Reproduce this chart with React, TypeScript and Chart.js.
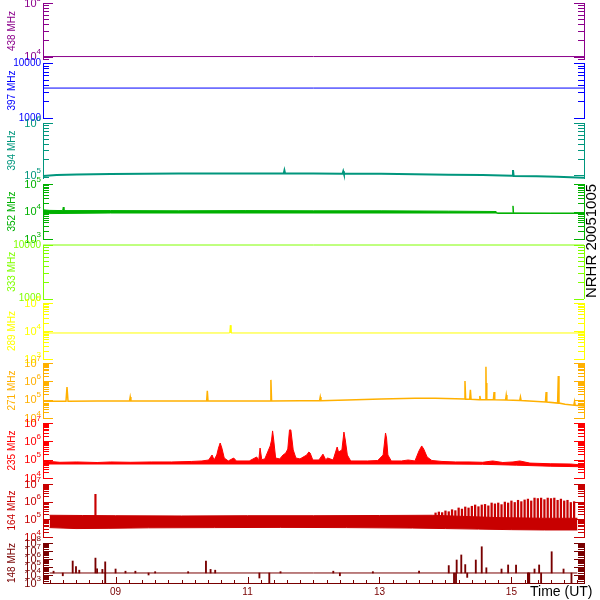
import React, { useEffect, useRef } from "react";
import { Chart, registerables } from "chart.js";

Chart.register(...registerables);

const FONT = "'Liberation Sans', 'DejaVu Sans', Arial, sans-serif";

// ---- time axis (hours UT) ----
const timeMin = 8;
const timeMax = 16;
const xTickHours = [9, 11, 13, 15];
const xTickLabels = ["09", "11", "13", "15"];
const xMinorStep = 0.2;
const timeTitle = "Time (UT)";
const stationTitle = "NRHR 20051005";

// ---- channels ----
const channelNames = ["438 MHz", "397 MHz", "394 MHz", "352 MHz", "333 MHz", "289 MHz", "271 MHz", "235 MHz", "164 MHz", "148 MHz"];
const channelColors = ["#8b008b", "#0000ff", "#00967d", "#00b000", "#80ff00", "#ffff00", "#ffb000", "#ff0000", "#c80000", "#780000"];
const yMins = [9e3, 1e3, 8.8e4, 1e3, 1e3, 1e3, 1e4, 1e4, 1e4, 1e3];
const yMaxs = [1e5, 1e4, 1e6, 1e5, 1e4, 1e5, 1e7, 1e7, 1e7, 1e8];
const yMajorValues = [
  [1e4, 1e5],
  [1e3, 1e4],
  [1e5, 1e6],
  [1e3, 1e4, 1e5],
  [1e3, 1e4],
  [1e3, 1e4, 1e5],
  [1e4, 1e5, 1e6, 1e7],
  [1e4, 1e5, 1e6, 1e7],
  [1e4, 1e5, 1e6, 1e7],
  [1e3, 1e4, 1e5, 1e6, 1e7, 1e8],
];
const yMajorLabels = [
  ["10^4", "10^5"],
  ["1000", "10000"],
  ["10^5", "10^6"],
  ["10^3", "10^4", "10^5"],
  ["1000", "10000"],
  ["10^3", "10^4", "10^5"],
  ["10^4", "10^5", "10^6", "10^7"],
  ["10^4", "10^5", "10^6", "10^7"],
  ["10^4", "10^5", "10^6", "10^7"],
  ["10^3", "10^4", "10^5", "10^6", "10^7", "10^8"],
];

// ---- layout of panels (pixels) ----
const panelTops = [3, 63, 123, 184, 245, 303, 363, 423, 484, 543];
const panelBottoms = [59, 118, 178, 239, 298.5, 359, 418, 478, 537, 583];

// ---- data: [time (h), value] ----
const s438 = [[8, 1e4], [16, 1e4]];
const s397 = [[8, 3500], [16, 3500]];
const s394 = [
  [8.0, 9.6e4], [8.2, 1.0e5], [8.5, 1.03e5], [9.0, 1.05e5], [10.0, 1.07e5], [11.0, 1.07e5],
  [11.56, 1.07e5], [11.57, 1.22e5], [11.58, 1.07e5], [12.0, 1.07e5], [12.43, 1.06e5], [12.44, 1.18e5],
  [12.45, 1.06e5], [13.0, 1.06e5], [13.5, 1.04e5], [14.0, 1.02e5], [14.5, 1.0e5], [14.94, 9.7e4],
  [14.95, 1.25e5], [14.96, 9.6e4], [15.3, 9.5e4], [15.6, 9.3e4], [16.0, 8.9e4],
];
const s352Lo = [[8.0, 7.4e3], [8.1, 8.4e3], [9.0, 8.8e3], [14.7, 8.8e3], [14.72, 8.5e3], [16.0, 8.5e3]];
const s352Hi = [
  [8.0, 1.15e4], [8.1, 1.1e4], [8.29, 1.08e4], [8.3, 1.45e4], [8.31, 1.08e4], [9.0, 1.08e4],
  [10.0, 1.06e4], [11.0, 1.08e4], [12.0, 1.06e4], [13.0, 1.06e4], [14.0, 1.03e4], [14.7, 1.0e4],
  [14.72, 8.9e3], [14.94, 8.9e3], [14.95, 1.6e4], [14.96, 8.9e3], [15.5, 8.8e3], [16.0, 8.8e3],
];
const s333 = [[8, 1e4], [16, 1e4]];
const s289 = [[8, 8.5e3], [10.76, 8.5e3], [10.77, 1.6e4], [10.78, 8.5e3], [16, 8.5e3]];
const s271 = [
  [8.0, 8.3e4], [8.34, 8.3e4], [8.355, 4.9e5], [8.37, 8.3e4], [8.8, 8.5e4], [9.28, 8.5e4], [9.29, 1.4e5],
  [9.3, 8.5e4], [9.8, 8.5e4], [10.42, 8.5e4], [10.43, 3.0e5], [10.44, 8.5e4], [11.0, 8.5e4], [11.36, 8.5e4],
  [11.37, 1.2e6], [11.38, 8.5e4], [11.8, 8.7e4], [12.09, 8.8e4], [12.1, 1.4e5], [12.11, 8.8e4], [12.5, 9.6e4],
  [13.0, 1.1e5], [13.5, 1.2e5], [13.8, 1.2e5], [14.1, 1.12e5], [14.23, 1.1e5], [14.24, 1.05e6], [14.25, 1.05e5],
  [14.31, 1.05e5], [14.32, 3.4e5], [14.33, 1.05e5], [14.45, 1.0e5], [14.46, 1.6e5], [14.47, 1.0e5],
  [14.54, 1.0e5], [14.55, 6.3e6], [14.555, 1.0e5], [14.56, 8.1e5], [14.565, 1.0e5], [14.66, 9.8e4],
  [14.67, 2.6e5], [14.68, 9.8e4], [14.84, 9.6e4], [14.85, 1.8e5], [14.86, 9.6e4], [15.05, 9.0e4],
  [15.06, 1.4e5], [15.07, 9.0e4], [15.43, 7.5e4], [15.44, 2.6e5], [15.45, 7.5e4], [15.61, 6.5e4],
  [15.62, 1.95e6], [15.63, 6.5e4], [15.72, 5.6e4], [15.85, 5.0e4], [15.86, 8.0e4], [15.87, 5.0e4], [16.0, 4.5e4],
];
const s235Lo = [[8.0, 5.8e4], [13.9, 5.8e4], [14.5, 5.6e4], [15.0, 5.0e4], [15.5, 4.4e4], [16.0, 4.1e4]];
const s235Hi = [
  [8.0, 7.0e4], [8.1, 8.0e4], [8.25, 7.2e4], [8.5, 7.5e4], [8.8, 7.0e4], [9.0, 7.5e4], [9.3, 7.2e4],
  [9.6, 7.5e4], [9.9, 7.5e4], [10.2, 8.0e4], [10.35, 8.5e4], [10.45, 9.6e4], [10.5, 1.8e5], [10.53, 9.6e4],
  [10.57, 1.8e5], [10.595, 4.3e5], [10.62, 8.1e5], [10.645, 4.3e5], [10.68, 1.23e5], [10.74, 8.5e4],
  [10.82, 1.23e5], [10.86, 8.5e4], [11.05, 8.5e4], [11.16, 1.4e5], [11.19, 9.0e4], [11.21, 4.3e5],
  [11.235, 1.0e5], [11.28, 1.1e5], [11.36, 5.6e5], [11.38, 1.18e6], [11.395, 3.7e6], [11.41, 1.34e6],
  [11.44, 1.23e5], [11.5, 1.1e5], [11.55, 1.8e5], [11.59, 2.3e5], [11.62, 3.8e5], [11.645, 4.2e6],
  [11.665, 4.2e6], [11.7, 3.4e5], [11.74, 1.23e5], [11.8, 1.1e5], [11.9, 1.8e5], [11.93, 2.6e5],
  [11.95, 2.3e5], [11.99, 9.6e4], [12.08, 9.6e4], [12.14, 2.0e5], [12.18, 1.0e5], [12.21, 1.23e5],
  [12.29, 9.6e4], [12.35, 4.9e5], [12.37, 2.6e5], [12.42, 3.4e5], [12.45, 3.2e6], [12.47, 1.18e6],
  [12.5, 1.8e5], [12.55, 8.5e4], [12.8, 8.5e4], [12.95, 9.0e4], [13.03, 1.8e5], [13.065, 2.85e6],
  [13.08, 1.52e6], [13.1, 1.8e5], [13.15, 8.5e4], [13.3, 8.5e4], [13.4, 9.6e4], [13.5, 8.5e4],
  [13.56, 3.0e5], [13.6, 5.6e5], [13.63, 3.8e5], [13.68, 1.4e5], [13.75, 9.0e4], [13.9, 8.0e4],
  [14.1, 7.5e4], [14.3, 7.5e4], [14.5, 7.2e4], [14.65, 8.5e4], [14.8, 7.0e4], [14.95, 7.5e4],
  [15.05, 8.5e4], [15.2, 6.5e4], [15.5, 6.0e4], [15.8, 5.8e4], [16.0, 5.0e4],
];
const s164Lo = [
  [8.0, 3.4e4], [8.4, 3.0e4], [8.9, 3.1e4], [9.5, 3.3e4], [10.5, 3.4e4], [11.5, 3.5e4], [12.5, 3.4e4],
  [13.5, 3.2e4], [14.0, 3.0e4], [14.5, 2.8e4], [15.0, 2.6e4], [15.5, 2.5e4], [16.0, 2.5e4],
];
const s164Hi = [
  [8.0, 1.7e5], [8.5, 1.65e5], [9.0, 1.6e5], [10.0, 1.55e5], [11.0, 1.6e5], [12.0, 1.6e5], [13.0, 1.65e5],
  [13.8, 1.7e5], [14.2, 1.5e5], [14.8, 1.25e5], [15.5, 1.15e5], [16.0, 1.15e5],
];
const s164Spikes = [[8.695, 1.6e5, 2.6e6]];
const comb164Base = 1.15e5;
const s164Comb = [
  [13.85, 2.3e5], [13.9, 2.6e5], [13.95, 2.4e5], [14.0, 3.0e5], [14.05, 2.7e5], [14.1, 3.5e5], [14.15, 3.1e5],
  [14.2, 4.4e5], [14.25, 3.8e5], [14.3, 5.0e5], [14.35, 4.4e5], [14.4, 5.5e5], [14.45, 6.5e5], [14.5, 5.2e5],
  [14.55, 6.5e5], [14.6, 7.0e5], [14.65, 5.8e5], [14.7, 8.4e5], [14.75, 7.5e5], [14.8, 8.4e5], [14.85, 6.8e5],
  [14.9, 9.5e5], [14.95, 8.4e5], [15.0, 1.1e6], [15.05, 9.0e5], [15.1, 1.2e6], [15.15, 1.0e6], [15.2, 1.25e6],
  [15.25, 1.4e6], [15.3, 1.1e6], [15.35, 1.6e6], [15.4, 1.5e6], [15.45, 1.6e6], [15.5, 1.3e6], [15.55, 1.6e6],
  [15.6, 1.5e6], [15.65, 1.6e6], [15.7, 1.2e6], [15.75, 1.4e6], [15.8, 1.1e6], [15.85, 1.2e6], [15.9, 9.0e5],
  [15.95, 1.0e6],
];
const base148 = 1.78e4;
const s148Base = [[8, base148], [16, base148]];
const s148Up = [
  [8.06, 3.0e4], [8.35, 5.6e5], [8.4, 1.1e5], [8.45, 4.0e4], [8.695, 1.3e6], [8.72, 6.0e4], [8.8, 5.0e4],
  [8.843, 4.4e5], [9.0, 5.6e4], [9.15, 3.0e4], [9.3, 3.0e4], [9.6, 2.6e4], [10.1, 2.6e4], [10.37, 5.6e5],
  [10.44, 5.0e4], [10.51, 4.0e4], [11.5, 2.6e4], [12.3, 3.0e4], [12.9, 2.6e4], [13.6, 3.0e4], [14.05, 1.5e5],
  [14.17, 7.5e5], [14.24, 3.2e6], [14.3, 2.0e5], [14.46, 7.5e5], [14.55, 3.4e7], [14.62, 8.0e4],
  [14.85, 5.6e4], [14.95, 1.8e5], [15.07, 1.8e5], [15.35, 5.6e4], [15.42, 1.8e5], [15.61, 8.1e6], [15.79, 5.6e4],
];
const s148Down = [
  [8.2, 8e3], [8.843, 1e3], [9.5, 1e4], [11.18, 4.2e3], [11.33, 1e3], [12.4, 8e3], [14.13, 1e3],
  [14.16, 1e3], [14.33, 5e3], [15.25, 1e3], [15.26, 1e3], [15.27, 1e3], [15.45, 1e3], [15.91, 1e3],
];

// ---- helpers ----
const line = (pairs: number[][], color: string, width = 1, extra: any = {}) => ({
  type: "line",
  data: pairs.map(([x, y]) => ({ x, y })),
  borderColor: color,
  backgroundColor: color,
  borderWidth: width,
  pointRadius: 0,
  tension: 0,
  clip: false,
  ...extra,
});
const bars = (items: number[][], color: string, thickness: number) => ({
  type: "bar",
  data: items.map(([x, lo, hi]) => ({ x, y: [lo, hi] })),
  backgroundColor: color,
  borderWidth: 0,
  barThickness: thickness,
  grouped: false,
  clip: false,
});

function datasetsFor(i: number) {
  const c = channelColors[i];
  switch (i) {
    case 0: return [line(s438, c)];
    case 1: return [line(s397, c)];
    case 2: return [line(s394, c, 2)];
    case 3: return [line(s352Lo, c), line(s352Hi, c, 1, { fill: "-1" })];
    case 4: return [line(s333, c)];
    case 5: return [line(s289, c)];
    case 6: return [line(s271, c, 1.5)];
    case 7: return [line(s235Lo, c), line(s235Hi, c, 1, { fill: "-1" })];
    case 8: return [
      line(s164Lo, c), line(s164Hi, c, 1, { fill: "-1" }),
      bars(s164Spikes, c, 1.5),
      bars(s164Comb.map(([t, v]) => [t, comb164Base, v]), c, 1.6),
    ];
    default: return [
      line(s148Base, c),
      bars(s148Up.map(([t, v]) => [t, base148, v]), c, 1.2),
      bars(s148Down.map(([t, v]) => [t, v, base148]), c, 1.2),
    ];
  }
}

function logTicks(min: number, max: number) {
  const out: number[] = [];
  for (let e = Math.floor(Math.log10(min)); e <= Math.ceil(Math.log10(max)); e++) {
    for (let m = 1; m <= 9; m++) {
      const v = m * Math.pow(10, e);
      if (v >= min * 0.9999 && v <= max * 1.0001) out.push(v);
    }
  }
  return out;
}
const isPow10 = (v: number) => Math.abs(Math.log10(v) - Math.round(Math.log10(v))) < 1e-6;

const noPad = (s: any) => {
  s.paddingTop = 0;
  s.paddingBottom = 0;
  s.paddingLeft = 0;
  s.paddingRight = 0;
};

const innerTicksPlugin = {
  id: "innerTicks",
  afterDraw(chart: any, _args: any, opts: any) {
    const { ctx, chartArea } = chart;
    const ys = chart.scales.y;
    ctx.save();
    ctx.strokeStyle = opts.color;
    ctx.lineWidth = 1;
    ctx.beginPath();
    for (const tk of ys.ticks) {
      const py = Math.round(ys.getPixelForValue(tk.value)) + 0.5;
      const len = isPow10(tk.value) ? 10 : 6;
      ctx.moveTo(chartArea.left, py);
      ctx.lineTo(chartArea.left + len, py);
      ctx.moveTo(chartArea.right, py);
      ctx.lineTo(chartArea.right - len, py);
    }
    ctx.stroke();

    // tick labels of the y axis: "10" with a raised exponent
    ctx.fillStyle = opts.color;
    ctx.textAlign = "right";
    ctx.textBaseline = "middle";
    const xr = chartArea.left - 2;
    opts.majors.forEach((m: number, k: number) => {
      const py = ys.getPixelForValue(m);
      const [base, exp] = String(opts.labels[k]).split("^");
      if (exp !== undefined) {
        ctx.font = `8px ${FONT}`;
        const ew = ctx.measureText(exp).width;
        ctx.fillText(exp, xr, py - 4.5);
        ctx.font = `11px ${FONT}`;
        ctx.fillText(base, xr - ew, py + 0.5);
      } else {
        ctx.font = `10px ${FONT}`;
        ctx.fillText(base, xr, py);
      }
    });

    if (opts.bottom) {
      const xs = chart.scales.x;
      ctx.beginPath();
      for (const tk of xs.ticks) {
        const px = Math.round(xs.getPixelForValue(tk.value)) + 0.5;
        const major = xTickHours.some((h) => Math.abs(h - tk.value) < 1e-6);
        const len = major ? 6 : 3;
        ctx.moveTo(px, chartArea.bottom);
        ctx.lineTo(px, chartArea.bottom - len);
      }
      ctx.stroke();
      ctx.fillStyle = "#000";
      ctx.font = `14px ${FONT}`;
      ctx.textAlign = "left";
      ctx.textBaseline = "middle";
      ctx.fillText(timeTitle, chartArea.right - 54, chartArea.bottom + 9);
      ctx.translate(chartArea.right + 8, 241);
      ctx.rotate(-Math.PI / 2);
      ctx.font = `15px ${FONT}`;
      ctx.textAlign = "center";
      ctx.fillText(stationTitle, 0, 0);
    }
    ctx.restore();
  },
};

function buildConfig(i: number): any {
  const color = channelColors[i];
  const min = yMins[i];
  const max = yMaxs[i];
  const isBottom = i === channelNames.length - 1;
  const top = panelTops[i];
  const bottom = panelBottoms[i];
  return {
    type: "line",
    data: { datasets: datasetsFor(i) },
    options: {
      responsive: false,
      animation: false,
      devicePixelRatio: 1,
      events: [],
      layout: { padding: { top, bottom: isBottom ? 600 - bottom - 17 : 600 - bottom, left: 0, right: 0 } },
      plugins: {
        legend: { display: false },
        tooltip: { enabled: false },
        title: { display: false },
        innerTicks: { color, bottom: isBottom, majors: yMajorValues[i], labels: yMajorLabels[i] },
      },
      scales: {
        x: {
          type: "linear",
          min: timeMin,
          max: timeMax,
          display: isBottom,
          position: "bottom",
          grid: { display: false, drawTicks: false },
          border: { display: true, color, width: 1 },
          afterBuildTicks: (s: any) => {
            const ticks = [];
            for (let k = 0; timeMin + k * xMinorStep <= timeMax + 1e-9; k++) {
              ticks.push({ value: Math.round((timeMin + k * xMinorStep) * 1000) / 1000 });
            }
            s.ticks = ticks;
          },
          afterFit: (s: any) => {
            s.height = isBottom ? 17 : 0;
            noPad(s);
          },
          ticks: {
            autoSkip: false,
            maxRotation: 0,
            minRotation: 0,
            padding: 3,
            color,
            font: { family: FONT, size: 10 },
            callback: (v: number) => {
              const k = xTickHours.findIndex((h) => Math.abs(h - v) < 1e-6);
              return k >= 0 ? xTickLabels[k] : "";
            },
          },
        },
        y: {
          type: "logarithmic",
          position: "left",
          min,
          max,
          grid: { display: false, drawTicks: false },
          border: { display: true, color, width: 1 },
          afterBuildTicks: (s: any) => { s.ticks = logTicks(min, max).map((value) => ({ value })); },
          afterFit: (s: any) => {
            s.width = 43;
            noPad(s);
          },
          ticks: { display: false },
          title: {
            display: true,
            text: channelNames[i],
            color,
            font: { family: FONT, size: 10 },
            padding: { top: 6, bottom: 0 },
          },
        },
        y2: {
          type: "logarithmic",
          position: "right",
          min,
          max,
          grid: { display: false, drawTicks: false },
          border: { display: true, color, width: 1 },
          ticks: { display: false },
          afterFit: (s: any) => {
            s.width = 16;
            noPad(s);
          },
        },
      },
    },
    plugins: [innerTicksPlugin],
  };
}

function Panel({ index }: { index: number }) {
  const ref = useRef<HTMLCanvasElement | null>(null);
  useEffect(() => {
    if (!ref.current) return;
    const chart = new Chart(ref.current, buildConfig(index));
    return () => chart.destroy();
  }, [index]);
  return (
    <canvas
      ref={ref}
      width={600}
      height={600}
      style={{ position: "absolute", left: 0, top: 0, width: 600, height: 600 }}
    />
  );
}

export default function App() {
  return (
    <div style={{ position: "absolute", left: 0, top: 0, width: 600, height: 600, background: "#fff" }}>
      {channelNames.map((_, i) => (
        <Panel key={i} index={i} />
      ))}
    </div>
  );
}
